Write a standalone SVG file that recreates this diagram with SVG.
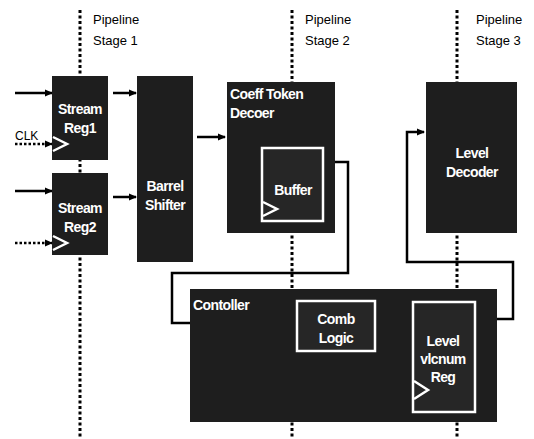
<svg xmlns="http://www.w3.org/2000/svg" width="534" height="439" viewBox="0 0 534 439">
<defs>
<style>
.blk{fill:#1e1e1e;stroke:none}
.inner{fill:#262626;stroke:#fff;stroke-width:2.5}
.clk{fill:none;stroke:#fff;stroke-width:2.5;stroke-linejoin:miter}
.pipe{stroke:#000;stroke-width:3;stroke-dasharray:3 2.5;fill:none}
.wire{stroke:#000;stroke-width:2.5;fill:none}
.dwire{stroke:#000;stroke-width:2.5;stroke-dasharray:2.5 2;fill:none}
.wt{fill:#fff;font-family:"Liberation Sans",Arial,sans-serif;font-size:14px;font-weight:bold;letter-spacing:-0.6px}
.lbl{fill:#000;font-family:"Liberation Sans",Arial,sans-serif;font-size:13px}
</style>
<marker id="ah" markerWidth="8" markerHeight="8" refX="7" refY="4" orient="auto" markerUnits="userSpaceOnUse">
<path d="M0,0.5 L8,4 L0,7.5 Z" fill="#000"/>
</marker>
</defs>

<g id="pipelines">
<line class="pipe" x1="80" y1="10" x2="80" y2="439"/>
<line class="pipe" x1="292" y1="10" x2="292" y2="439"/>
<line class="pipe" x1="457" y1="10" x2="457" y2="439"/>
<text class="lbl" x="93" y="24">Pipeline</text>
<text class="lbl" x="93" y="45">Stage  1</text>
<text class="lbl" x="305" y="24">Pipeline</text>
<text class="lbl" x="305" y="45">Stage  2</text>
<text class="lbl" x="476" y="24">Pipeline</text>
<text class="lbl" x="476" y="45">Stage  3</text>
</g>

<g id="connectors">
<line class="wire" x1="15" y1="93" x2="52" y2="93" marker-end="url(#ah)"/>
<line class="wire" x1="15" y1="191" x2="52" y2="191" marker-end="url(#ah)"/>
<line class="dwire" x1="15" y1="144" x2="52" y2="144" marker-end="url(#ah)"/>
<line class="dwire" x1="15" y1="243" x2="52" y2="243" marker-end="url(#ah)"/>
<line class="wire" x1="113" y1="93" x2="136" y2="93" marker-end="url(#ah)"/>
<line class="wire" x1="113" y1="197" x2="136" y2="197" marker-end="url(#ah)"/>
<line class="wire" x1="197" y1="137" x2="225" y2="137" marker-end="url(#ah)"/>
<polyline class="wire" points="335,162 348,162 348,273 172,273 172,323 190,323"/>
<polyline class="wire" points="497,319 513,319 513,262 407,262 407,132 424,132" marker-end="url(#ah)"/>
<text class="lbl" x="15" y="140" style="font-size:12px">CLK</text>
</g>

<g id="stream-reg1">
<rect class="blk" x="52" y="76" width="56" height="84"/>
<polyline class="clk" points="53,137 67,144 53,151"/>
<text class="wt" x="80" y="114" text-anchor="middle">Stream</text>
<text class="wt" x="80" y="133" text-anchor="middle">Reg1</text>
</g>

<g id="stream-reg2">
<rect class="blk" x="52" y="173" width="56" height="82"/>
<polyline class="clk" points="53,236 67,243 53,250"/>
<text class="wt" x="80" y="213" text-anchor="middle">Stream</text>
<text class="wt" x="80" y="232" text-anchor="middle">Reg2</text>
</g>

<g id="barrel-shifter">
<rect class="blk" x="137" y="76" width="56" height="186"/>
<text class="wt" x="165" y="191" text-anchor="middle">Barrel</text>
<text class="wt" x="165" y="210" text-anchor="middle">Shifter</text>
</g>

<g id="coeff-token-decoder">
<rect class="blk" x="227" y="82" width="108" height="151"/>
<text class="wt" x="230" y="99">Coeff  Token</text>
<text class="wt" x="230" y="118">Decoer</text>
</g>

<g id="buffer">
<rect class="inner" x="262" y="148" width="61" height="73"/>
<polyline class="clk" points="263,202 277,209 263,216"/>
<text class="wt" x="293" y="195" text-anchor="middle">Buffer</text>
</g>

<g id="level-decoder">
<rect class="blk" x="426" y="82" width="91" height="151"/>
<text class="wt" x="472" y="158" text-anchor="middle">Level</text>
<text class="wt" x="472" y="177" text-anchor="middle">Decoder</text>
</g>

<g id="controller">
<rect class="blk" x="190" y="289" width="307" height="133"/>
<text class="wt" x="193" y="310">Contoller</text>
</g>

<g id="comb-logic">
<rect class="inner" x="297" y="301" width="78" height="50"/>
<text class="wt" x="336" y="324" text-anchor="middle">Comb</text>
<text class="wt" x="336" y="343" text-anchor="middle">Logic</text>
</g>

<g id="level-vlcnum-reg">
<rect class="inner" x="413" y="302" width="62" height="110"/>
<polyline class="clk" points="414,381 428,390 414,399"/>
<text class="wt" x="443" y="346" text-anchor="middle">Level</text>
<text class="wt" x="443" y="364" text-anchor="middle">vlcnum</text>
<text class="wt" x="443" y="382" text-anchor="middle">Reg</text>
</g>
</svg>
